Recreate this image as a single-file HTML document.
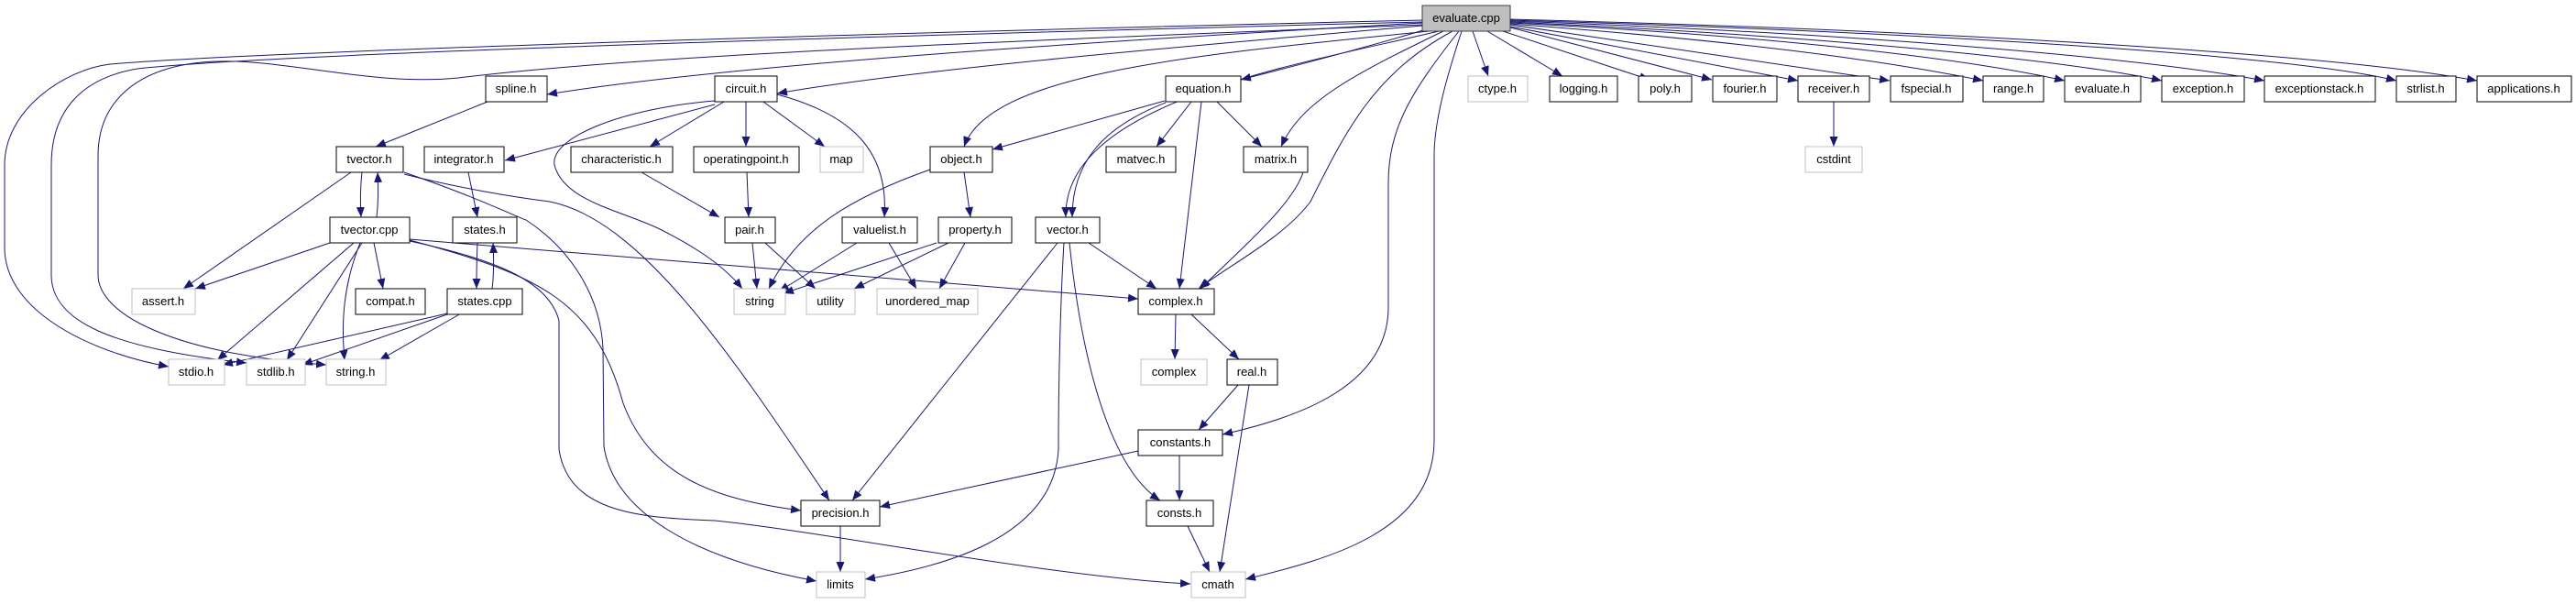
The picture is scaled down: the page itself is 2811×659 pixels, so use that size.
<!DOCTYPE html>
<html><head><meta charset="utf-8"><style>
html,body{margin:0;padding:0;background:#fff;}
svg{display:block;}
text{font-family:"Liberation Sans",sans-serif;font-size:13px;text-anchor:middle;fill:#000;}
.n{fill:#fff;stroke:#000;stroke-width:1;}
.g{fill:#fff;stroke:#bfbfbf;stroke-width:1;}
.e{fill:none;stroke:#191970;stroke-width:1;marker-end:url(#a);}
</style></head><body>
<svg width="2811" height="659" viewBox="0 0 2811 659" xmlns="http://www.w3.org/2000/svg">
<defs><marker id="a" markerUnits="userSpaceOnUse" markerWidth="12" markerHeight="10" refX="11" refY="4.5" orient="auto"><path d="M0,0 L11,4.5 L0,9 z" fill="#191970"/></marker></defs>

<path class="e" d="M1552,22 C1000,35 300,55 120,70 C70,76 5,120 5,180 L5,270 C5,340 100,385 184,400"/>
<path class="e" d="M1552,24 C1000,38 300,58 150,75 C90,85 56,120 56,180 L56,300 C56,350 120,380 269,396"/>
<path class="e" d="M1552,27 C1100,45 700,60 500,85 C400,95 300,60 220,68 C150,75 107,110 107,170 L107,300 C107,340 180,385 356,398"/>
<path class="e" d="M1552,25 C1200,45 800,70 597,103"/>
<path class="e" d="M1552,28 C1300,50 1000,75 848,102"/>
<path class="e" d="M1560,34 C1300,60 1080,80 1052,160"/>
<path class="e" d="M1570,34 C1420,70 1160,110 1163,237"/>
<path class="e" d="M1553,33 C1480,55 1400,75 1354,87"/>
<path class="e" d="M1575,34 C1480,80 1420,110 1398,160"/>
<path class="e" d="M1585,34 C1500,80 1470,140 1430,220 C1400,260 1340,290 1308,315"/>
<path class="e" d="M1592,34 C1540,100 1515,140 1515,200 L1515,335 C1515,420 1420,455 1334,474"/>
<path class="e" d="M1595,34 C1580,80 1565,130 1565,170 L1565,480 C1565,580 1450,610 1359,632"/>
<path class="e" d="M1607,34 L1624,83"/>
<path class="e" d="M1623,34 L1705,83"/>
<path class="e" d="M1640,34 L1800,87"/>
<path class="e" d="M1648,30 L1868,87"/>
<path class="e" d="M1648,29 L1962,88"/>
<path class="e" d="M1648,27 L2062,88"/>
<path class="e" d="M1648,26 C1900,45 2050,65 2164,88"/>
<path class="e" d="M1648,25 C1950,40 2150,65 2253,88"/>
<path class="e" d="M1648,24 C2000,40 2250,65 2359,88"/>
<path class="e" d="M1648,23 C2050,37 2350,65 2471,88"/>
<path class="e" d="M1648,22 C2100,35 2500,60 2615,88"/>
<path class="e" d="M1648,21 C2150,34 2550,60 2703,88"/>

<path class="e" d="M532,111 L410,160"/>
<path class="e" d="M395,188 C393,205 393,220 394,237"/>
<path class="e" d="M411,237 C413,220 413,205 412,188"/>
<path class="e" d="M383,188 L200,315"/>
<path class="e" d="M441,188 C520,215 560,235 574,240 C620,270 655,320 658,380 L659,487 C670,560 760,610 891,634"/>
<path class="e" d="M441,190 C500,205 560,215 600,220 C700,240 800,390 905,546"/>
<path class="e" d="M447,263 C550,285 600,310 610,350 L610,490 C620,560 700,565 780,568 C900,580 1150,630 1299,637"/>
<path class="e" d="M447,262 C590,300 650,330 680,440 C710,520 780,545 874,557"/>
<path class="e" d="M447,261 L1242,326"/>
<path class="e" d="M360,265 L213,315"/>
<path class="e" d="M408,265 L418,315"/>
<path class="e" d="M386,265 L237,393"/>
<path class="e" d="M395,265 L313,393"/>
<path class="e" d="M393,265 C375,310 372,350 376,393"/>
<path class="e" d="M488,342 L243,398"/>
<path class="e" d="M488,343 L330,398"/>
<path class="e" d="M503,342 L414,393"/>
<path class="e" d="M511,188 L521,237"/>
<path class="e" d="M521,265 C520,285 520,300 520,315"/>
<path class="e" d="M537,315 C539,300 539,285 538,265"/>
<path class="e" d="M780,114 L551,175"/>
<path class="e" d="M780,110 C680,118 600,150 605,180 C615,220 680,230 720,250 C760,270 790,290 810,315"/>
<path class="e" d="M790,111 L709,160"/>
<path class="e" d="M814,111 L814,160"/>
<path class="e" d="M833,111 L900,160"/>
<path class="e" d="M848,103 C930,125 970,165 965,237"/>
<path class="e" d="M700,188 L785,237"/>
<path class="e" d="M815,188 L817,237"/>
<path class="e" d="M821,265 L826,315"/>
<path class="e" d="M835,265 L890,315"/>
<path class="e" d="M935,265 L850,318"/>
<path class="e" d="M970,265 L1000,315"/>
<path class="e" d="M1022,265 L855,320"/>
<path class="e" d="M1035,265 L932,315"/>
<path class="e" d="M1053,265 L1025,315"/>
<path class="e" d="M1015,185 C930,215 870,250 839,315"/>
<path class="e" d="M1052,188 L1059,237"/>
<path class="e" d="M1271,110 L1083,163"/>
<path class="e" d="M1272,112 C1200,140 1170,180 1170,237"/>
<path class="e" d="M1300,111 L1262,160"/>
<path class="e" d="M1328,111 L1377,160"/>
<path class="e" d="M1311,111 L1287,315"/>
<path class="e" d="M1422,188 C1410,225 1350,275 1310,315"/>
<path class="e" d="M1188,265 L1262,315"/>
<path class="e" d="M1154,265 L930,546"/>
<path class="e" d="M1161,265 C1157,330 1155,420 1155,490 C1150,590 1020,620 944,632"/>
<path class="e" d="M1167,265 C1180,390 1210,510 1266,546"/>
<path class="e" d="M1283,343 L1282,392"/>
<path class="e" d="M1300,343 L1352,392"/>
<path class="e" d="M1351,420 L1308,469"/>
<path class="e" d="M1363,420 L1331,624"/>
<path class="e" d="M1242,492 L960,553"/>
<path class="e" d="M1287,497 L1287,546"/>
<path class="e" d="M1296,574 L1320,624"/>
<path class="e" d="M917,574 L917,624"/>
<path class="e" d="M2001,111 L2001,160"/>

<rect x="1552" y="6" width="96" height="28" fill="#bfbfbf" stroke="#404040"/><text x="1600" y="24">evaluate.cpp</text>
<rect class="n" x="530" y="83" width="67" height="28"/><text x="563" y="101">spline.h</text>
<rect class="n" x="780" y="83" width="68" height="28"/><text x="814" y="101">circuit.h</text>
<rect class="n" x="1272" y="83" width="82" height="28"/><text x="1313" y="101">equation.h</text>
<rect class="g" x="1602" y="83" width="65" height="28"/><text x="1634" y="101">ctype.h</text>
<rect class="n" x="1691" y="83" width="74" height="28"/><text x="1728" y="101">logging.h</text>
<rect class="n" x="1788" y="83" width="58" height="28"/><text x="1817" y="101">poly.h</text>
<rect class="n" x="1869" y="83" width="70" height="28"/><text x="1904" y="101">fourier.h</text>
<rect class="n" x="1962" y="83" width="78" height="28"/><text x="2001" y="101">receiver.h</text>
<rect class="n" x="2063" y="83" width="79" height="28"/><text x="2102" y="101">fspecial.h</text>
<rect class="n" x="2164" y="83" width="66" height="28"/><text x="2197" y="101">range.h</text>
<rect class="n" x="2253" y="83" width="83" height="28"/><text x="2294" y="101">evaluate.h</text>
<rect class="n" x="2359" y="83" width="90" height="28"/><text x="2404" y="101">exception.h</text>
<rect class="n" x="2471" y="83" width="121" height="28"/><text x="2531" y="101">exceptionstack.h</text>
<rect class="n" x="2615" y="83" width="65" height="28"/><text x="2647" y="101">strlist.h</text>
<rect class="n" x="2703" y="83" width="103" height="28"/><text x="2754" y="101">applications.h</text>

<rect class="n" x="367" y="160" width="73" height="28"/><text x="403" y="178">tvector.h</text>
<rect class="n" x="463" y="160" width="87" height="28"/><text x="506" y="178">integrator.h</text>
<rect class="n" x="623" y="160" width="111" height="28"/><text x="678" y="178">characteristic.h</text>
<rect class="n" x="757" y="160" width="115" height="28"/><text x="814" y="178">operatingpoint.h</text>
<rect class="g" x="895" y="160" width="47" height="28"/><text x="918" y="178">map</text>
<rect class="n" x="1015" y="160" width="68" height="28"/><text x="1049" y="178">object.h</text>
<rect class="n" x="1207" y="160" width="76" height="28"/><text x="1245" y="178">matvec.h</text>
<rect class="n" x="1357" y="160" width="70" height="28"/><text x="1392" y="178">matrix.h</text>
<rect class="g" x="1970" y="160" width="62" height="28"/><text x="2001" y="178">cstdint</text>

<rect class="n" x="360" y="237" width="87" height="28"/><text x="403" y="255">tvector.cpp</text>
<rect class="n" x="494" y="237" width="70" height="28"/><text x="529" y="255">states.h</text>
<rect class="n" x="791" y="237" width="55" height="28"/><text x="818" y="255">pair.h</text>
<rect class="n" x="919" y="237" width="82" height="28"/><text x="960" y="255">valuelist.h</text>
<rect class="n" x="1024" y="237" width="80" height="28"/><text x="1064" y="255">property.h</text>
<rect class="n" x="1130" y="237" width="70" height="28"/><text x="1165" y="255">vector.h</text>

<rect class="g" x="144" y="315" width="69" height="28"/><text x="178" y="333">assert.h</text>
<rect class="n" x="388" y="315" width="76" height="28"/><text x="426" y="333">compat.h</text>
<rect class="n" x="488" y="315" width="82" height="28"/><text x="529" y="333">states.cpp</text>
<rect class="g" x="801" y="315" width="56" height="28"/><text x="829" y="333">string</text>
<rect class="g" x="880" y="315" width="53" height="28"/><text x="906" y="333">utility</text>
<rect class="g" x="957" y="315" width="110" height="28"/><text x="1012" y="333">unordered_map</text>
<rect class="n" x="1242" y="315" width="83" height="28"/><text x="1283" y="333">complex.h</text>

<rect class="g" x="184" y="392" width="61" height="28"/><text x="214" y="410">stdio.h</text>
<rect class="g" x="269" y="392" width="64" height="28"/><text x="301" y="410">stdlib.h</text>
<rect class="g" x="356" y="392" width="65" height="28"/><text x="388" y="410">string.h</text>
<rect class="g" x="1245" y="392" width="72" height="28"/><text x="1281" y="410">complex</text>
<rect class="n" x="1339" y="392" width="55" height="28"/><text x="1366" y="410">real.h</text>

<rect class="n" x="1242" y="469" width="92" height="28"/><text x="1288" y="487">constants.h</text>

<rect class="n" x="874" y="546" width="86" height="28"/><text x="917" y="564">precision.h</text>
<rect class="n" x="1251" y="546" width="73" height="28"/><text x="1287" y="564">consts.h</text>

<rect class="g" x="891" y="624" width="53" height="28"/><text x="917" y="642">limits</text>
<rect class="g" x="1300" y="624" width="59" height="28"/><text x="1329" y="642">cmath</text>
</svg>
</body></html>
